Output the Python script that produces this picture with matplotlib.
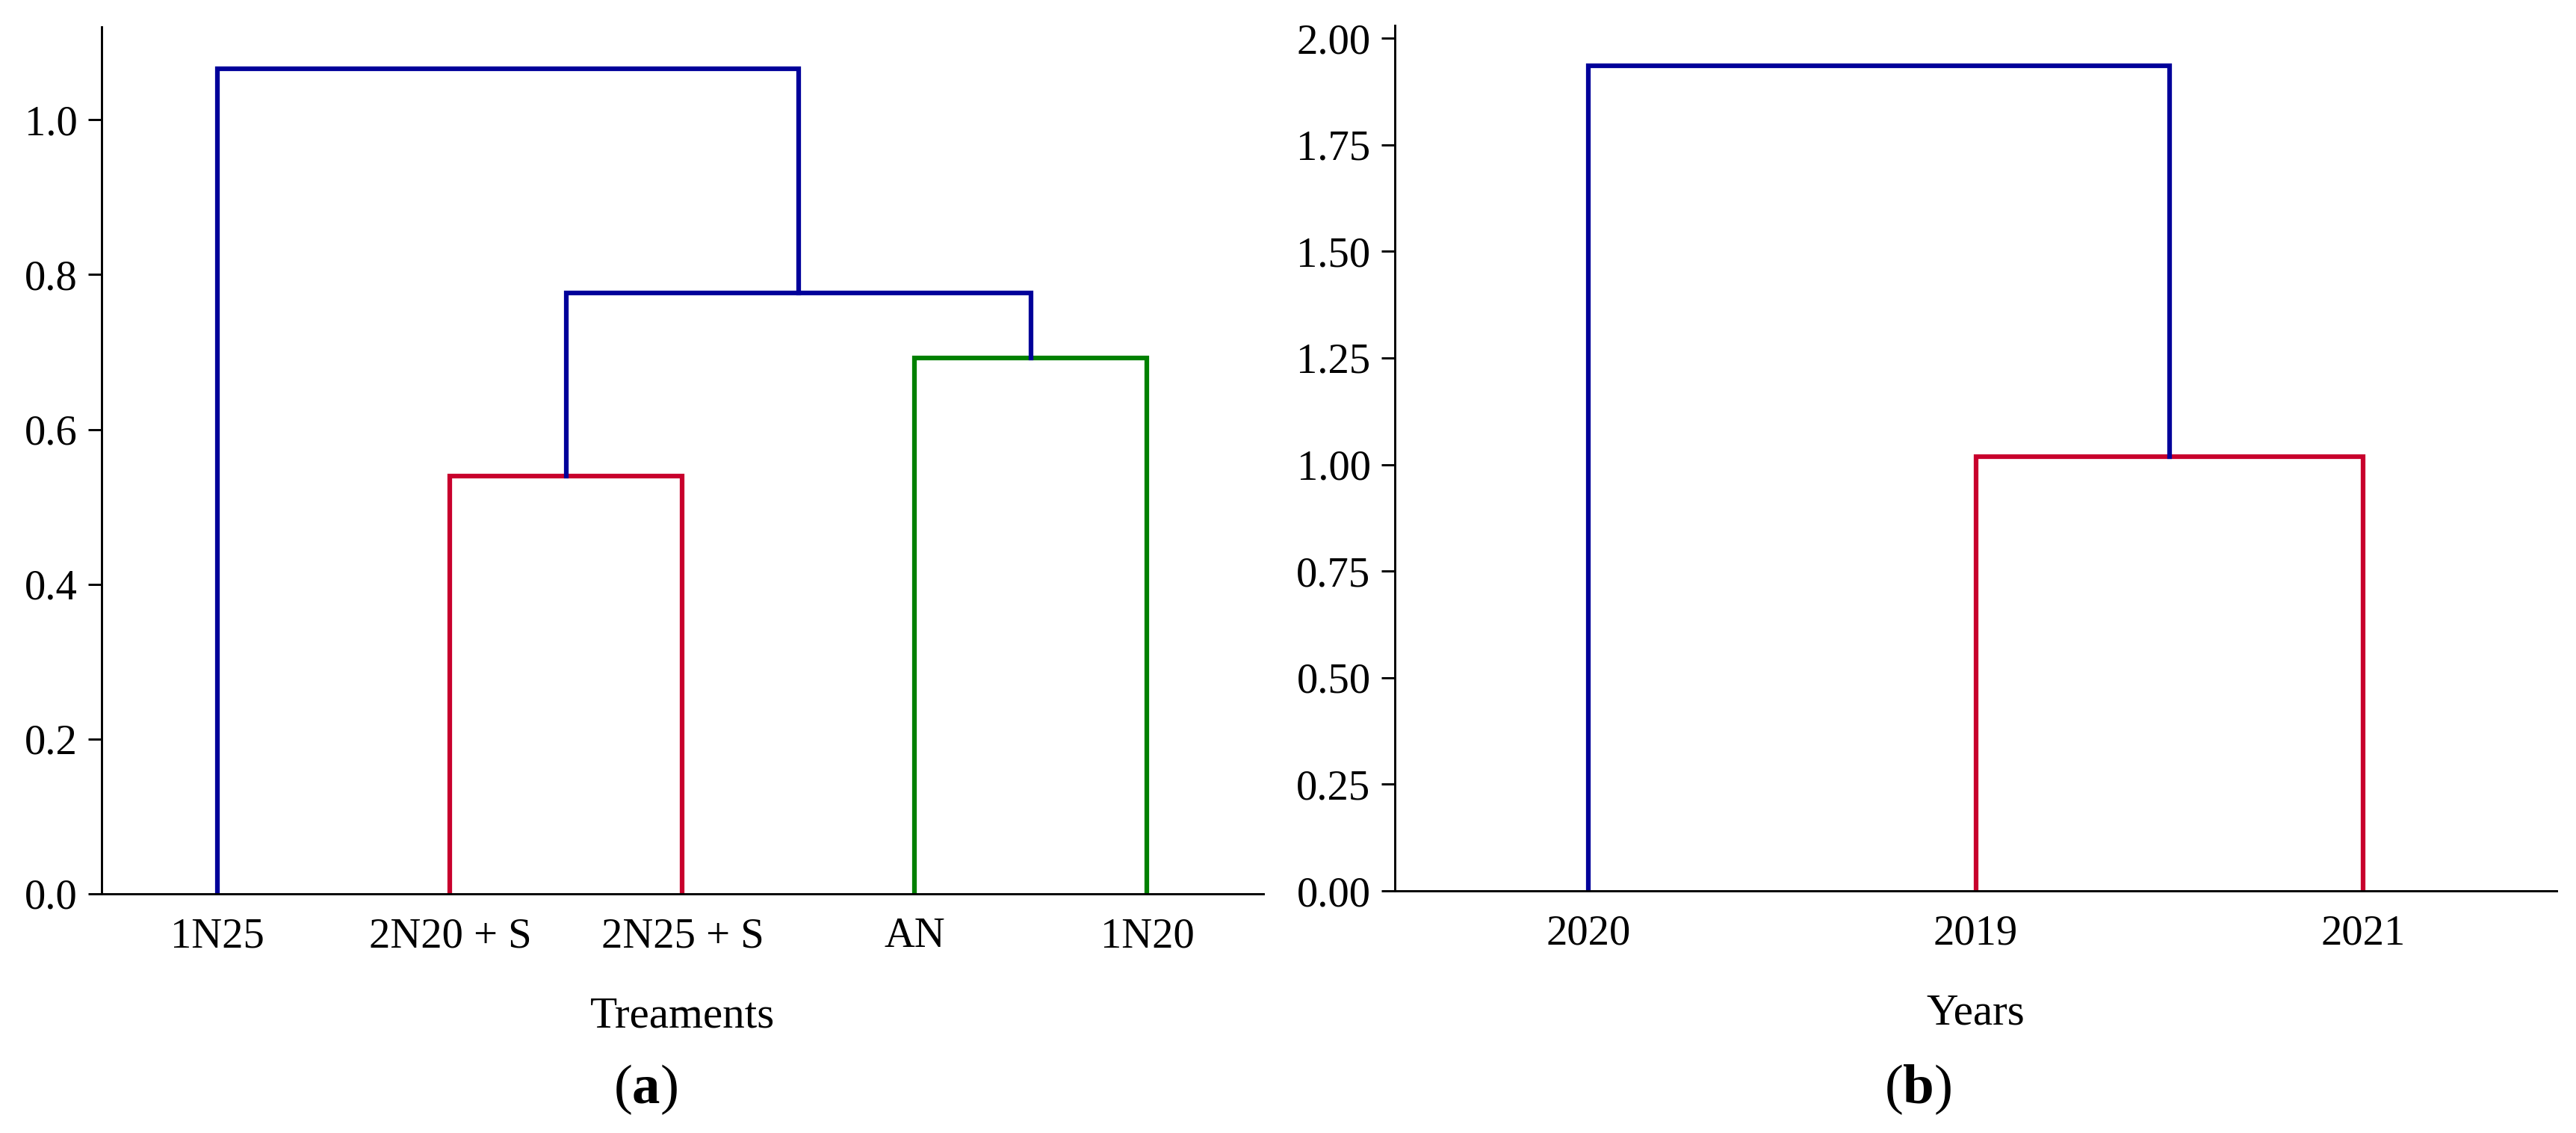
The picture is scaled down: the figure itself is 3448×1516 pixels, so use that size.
import matplotlib
matplotlib.use("Agg")
import matplotlib.pyplot as plt
from matplotlib.ticker import FormatStrFormatter
import numpy as np

plt.rcParams['font.family'] = ['Liberation Serif', 'DejaVu Serif']
plt.rcParams['mathtext.fontset'] = 'custom'
plt.rcParams['mathtext.rm'] = 'Liberation Serif'
plt.rcParams['mathtext.bf'] = 'Liberation Serif:bold'

BLUE = '#00009a'
RED = '#c8002d'
GREEN = '#008000'

# panel (a): treatments
treat_labels = ['1N25', '2N20 + S', '2N25 + S', 'AN', '1N20']
# merges like a linkage matrix: child a, child b, height
treat_merges = [(1, 2, 0.540), (3, 4, 0.692), (5, 6, 0.776), (0, 7, 1.066)]
treat_colors = [RED, GREEN, BLUE, BLUE]

# panel (b): years
year_labels = ['2020', '2019', '2021']
year_merges = [(1, 2, 1.019), (0, 3, 1.935)]
year_colors = [RED, BLUE]


def draw_dendro(ax, labels, merges, colors):
    n = len(labels)
    xs = [5 + 10 * i for i in range(n)]
    hs = [0.0] * n
    for (a, b, h), c in zip(merges, colors):
        ax.plot([xs[a], xs[a], xs[b], xs[b]], [hs[a], h, h, hs[b]],
                color=c, lw=1.5, solid_joinstyle='miter')
        xs.append((xs[a] + xs[b]) / 2)
        hs.append(h)
    ax.set_xlim(0, 10 * n)
    ax.set_xticks([5 + 10 * i for i in range(n)])
    ax.set_xticklabels(labels)


fig = plt.figure(figsize=(3448 / 300, 1516 / 300), dpi=300)
ax1 = fig.add_axes([0.0394, 0.2111, 0.4510, 0.7652])
ax2 = fig.add_axes([0.5415, 0.2137, 0.4510, 0.7639])

draw_dendro(ax1, treat_labels, treat_merges, treat_colors)
draw_dendro(ax2, year_labels, year_merges, year_colors)

ax1.set_ylim(0, 1.12)
ax1.set_yticks(np.arange(0, 1.01, 0.2))
ax1.yaxis.set_major_formatter(FormatStrFormatter('%.1f'))
ax2.set_ylim(0, 2.03)
ax2.set_yticks(np.arange(0, 2.01, 0.25))
ax2.yaxis.set_major_formatter(FormatStrFormatter('%.2f'))

ax1.set_xlabel('Treaments', fontsize=14.2, labelpad=13)
ax2.set_xlabel('Years', fontsize=14.2, labelpad=13)

for ax in (ax1, ax2):
    for s in ('top', 'right'):
        ax.spines[s].set_visible(False)
    for s in ('left', 'bottom'):
        ax.spines[s].set_linewidth(0.7)
    ax.tick_params(axis='y', direction='out', length=4.3, width=0.7,
                   pad=3.5, labelsize=13.6)
    ax.tick_params(axis='x', length=0, pad=7.5, labelsize=13.6)

fig.text(0.2506, 0.038, r'($\mathbf{a}$)', ha='center', va='center', fontsize=18)
fig.text(0.7445, 0.038, r'($\mathbf{b}$)', ha='center', va='center', fontsize=18)

fig.savefig('out.png', dpi=300, facecolor='white')
